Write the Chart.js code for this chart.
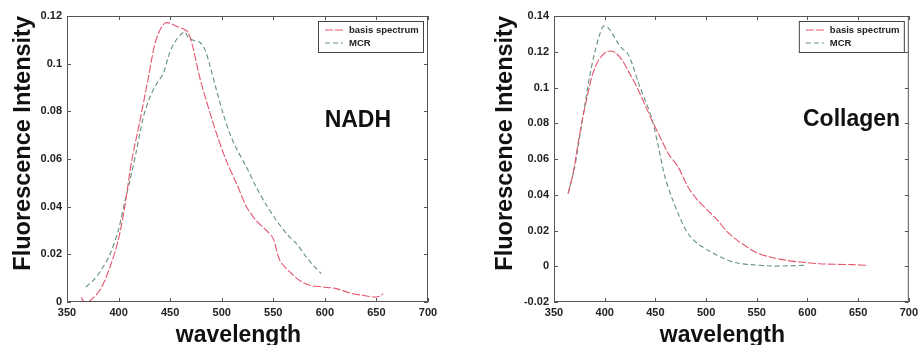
<!DOCTYPE html>
<html>
<head>
<meta charset="utf-8">
<script src="https://cdn.jsdelivr.net/npm/chart.js@4.4.1/dist/chart.umd.min.js"></script>
<style>
  html, body { margin: 0; padding: 0; background: #fff; }
  #wrap { position: relative; width: 922px; height: 345px; overflow: hidden; }
  .panel { position: absolute; top: 0; height: 345px; }
</style>
</head>
<body>
<div id="wrap">
  <div class="panel" style="left:0;width:460px"><canvas id="nadh_chart" width="460" height="345"></canvas></div>
  <div class="panel" style="left:460px;width:462px"><canvas id="collagen_chart" width="462" height="345"></canvas></div>
</div>
<script>
const seriesLabels = ["basis spectrum", "MCR"];

// NADH
const nadhBasisX = [363.6, 367, 370.7, 382, 391.7, 399.7, 406, 412.6, 420.7, 428.8, 435, 440, 445, 449.8, 456, 464, 467.5, 472, 478.8, 485, 495, 504.7, 514.4, 524, 533.7, 543.4, 549.9, 556.3, 566, 575.7, 585.4, 598.3, 611, 624, 637, 648.4, 653, 656.4];
const nadhBasisY = [0.002, 0, 0, 0.005, 0.0147, 0.026, 0.04, 0.059, 0.076, 0.094, 0.108, 0.114, 0.117, 0.117, 0.1157, 0.1143, 0.113, 0.107, 0.094, 0.0846, 0.0706, 0.059, 0.0497, 0.04, 0.034, 0.030, 0.0266, 0.0175, 0.0126, 0.009, 0.007, 0.0063, 0.0056, 0.0038, 0.0028, 0.0021, 0.0024, 0.0035];
const nadhMcrX = [368.4, 377, 385, 391.7, 399.7, 406, 411, 417.4, 424, 430.4, 436.9, 443.3, 448.2, 453, 459.5, 464.3, 467.5, 472.4, 478.8, 483.7, 488.5, 495, 501.4, 507.9, 514.4, 524, 533.7, 543.4, 553, 562.7, 572.4, 582, 590.2, 596.6];
const nadhMcrY = [0.0063, 0.0098, 0.0147, 0.020, 0.030, 0.042, 0.051, 0.0636, 0.0776, 0.086, 0.0916, 0.0958, 0.1028, 0.108, 0.1119, 0.1133, 0.111, 0.1098, 0.109, 0.106, 0.0993, 0.0888, 0.079, 0.0706, 0.0643, 0.0566, 0.048, 0.0406, 0.0343, 0.0287, 0.0245, 0.0189, 0.0147, 0.0119];

// Collagen
const collBasisX = [363.9, 368.8, 373.7, 378.5, 383.4, 388.2, 394.7, 401.2, 406, 411, 417.4, 423.9, 432, 440, 446.6, 453, 462.8, 472.5, 482.2, 491.9, 501.6, 511.4, 521, 530.8, 540.5, 550.3, 563, 579.3, 595.6, 611.8, 628, 644.2, 659.5];
const collBasisY = [0.0406, 0.0518, 0.0686, 0.0835, 0.0966, 0.1077, 0.116, 0.1198, 0.1204, 0.1193, 0.1152, 0.1086, 0.100, 0.090, 0.0816, 0.0742, 0.063, 0.0555, 0.0443, 0.0368, 0.0313, 0.0257, 0.0192, 0.0145, 0.0108, 0.0074, 0.0052, 0.0033, 0.0022, 0.0014, 0.0011, 0.0009, 0.0005];
const collMcrX = [363.9, 370.4, 375.3, 380.1, 385, 389.9, 394.7, 398.6, 402.8, 407.7, 412.5, 417.4, 422.3, 427.1, 433.6, 440, 446.6, 453, 459.4, 466, 474, 482.2, 491.9, 504.9, 517.9, 530.8, 543.8, 566.5, 582.7, 597.3];
const collMcrY = [0.0406, 0.0555, 0.0723, 0.089, 0.1058, 0.119, 0.129, 0.1343, 0.1338, 0.130, 0.1254, 0.1217, 0.1193, 0.1133, 0.102, 0.0928, 0.0825, 0.0667, 0.050, 0.0387, 0.0275, 0.0182, 0.0126, 0.008, 0.0042, 0.0018, 0.0009, 0.0001, 0.0003, 0.0005];

const xTicks = [350, 400, 450, 500, 550, 600, 650, 700];

const toPoints = (xs, ys) => xs.map((x, i) => ({ x: x, y: ys[i] }));

const basisStyle = { borderColor: "#e4566e", borderWidth: 1.1, borderDash: [8, 2] };
const mcrStyle = { borderColor: "#62917c", borderWidth: 1.1, borderDash: [5, 3] };

// box, inward ticks, legend and text labels
const framePlugin = {
  id: "frame",
  afterDraw(chart, args, opts) {
    const { ctx, chartArea: a, scales } = chart;
    const xs = scales.x, ys = scales.y;
    ctx.save();
    ctx.strokeStyle = "#555";
    ctx.lineWidth = 1;
    ctx.strokeRect(a.left + 0.5, a.top + 0.5, a.right - a.left - 1, a.bottom - a.top - 1);
    ctx.beginPath();
    xs.ticks.forEach(t => {
      const px = Math.round(xs.getPixelForValue(t.value)) + 0.5;
      ctx.moveTo(px, a.bottom); ctx.lineTo(px, a.bottom - 4);
      ctx.moveTo(px, a.top); ctx.lineTo(px, a.top + 4);
    });
    ys.ticks.forEach(t => {
      const py = Math.round(ys.getPixelForValue(t.value)) + 0.5;
      ctx.moveTo(a.left, py); ctx.lineTo(a.left + 4, py);
      ctx.moveTo(a.right, py); ctx.lineTo(a.right - 4, py);
    });
    ctx.stroke();

    // legend
    const bw = 105, bh = 31;
    const bx = a.right - 5 - bw, by = a.top + 5;
    ctx.fillStyle = "#fff";
    ctx.fillRect(bx, by, bw, bh);
    ctx.strokeStyle = "#444";
    ctx.strokeRect(bx + 0.5, by + 0.5, bw, bh);
    chart.data.datasets.forEach((ds, i) => {
      const ly = by + 9 + i * 13;
      ctx.strokeStyle = ds.borderColor;
      ctx.lineWidth = 1.1;
      ctx.setLineDash(ds.borderDash);
      ctx.beginPath();
      ctx.moveTo(bx + 7, ly); ctx.lineTo(bx + 25, ly);
      ctx.stroke();
      ctx.setLineDash([]);
      ctx.fillStyle = "#222";
      ctx.font = "bold 9.5px 'Liberation Sans', Arial, sans-serif";
      ctx.textBaseline = "middle";
      ctx.textAlign = "left";
      ctx.fillText(ds.label, bx + 31, ly);
    });

    // compound name
    ctx.fillStyle = "#111";
    ctx.font = "bold 23px 'Liberation Sans', Arial, sans-serif";
    ctx.textAlign = "center";
    ctx.textBaseline = "alphabetic";
    ctx.fillText(opts.name, xs.getPixelForValue(opts.nameX), ys.getPixelForValue(opts.nameY));

    // x axis title
    ctx.fillText("wavelength", (a.left + a.right) / 2 - 9, 342);
    ctx.restore();
  }
};

function makeConfig(basis, mcr, yMin, yMax, yWidth, titlePad, padRight, name, nameX, nameY) {
  return {
    type: "line",
    data: {
      datasets: [
        Object.assign({ label: seriesLabels[0], data: basis }, basisStyle),
        Object.assign({ label: seriesLabels[1], data: mcr }, mcrStyle),
      ],
    },
    options: {
      responsive: false,
      animation: false,
      layout: { padding: { top: 16, right: padRight, left: 0, bottom: 0 } },
      elements: { point: { radius: 0 }, line: { tension: 0.3, fill: false } },
      plugins: {
        legend: { display: false },
        tooltip: { enabled: false },
        frame: { name: name, nameX: nameX, nameY: nameY },
      },
      scales: {
        x: {
          type: "linear",
          min: 350,
          max: 700,
          afterBuildTicks: s => { s.ticks = xTicks.map(v => ({ value: v })); },
          afterFit: s => { s.height = 43; },
          grid: { display: false, drawTicks: false },
          border: { display: false },
          ticks: {
            padding: 4,
            color: "#222",
            font: { family: "'Liberation Sans', Arial, sans-serif", size: 11, weight: "bold" },
            maxRotation: 0,
          },
        },
        y: {
          min: yMin,
          max: yMax,
          afterFit: s => { s.width = yWidth; },
          grid: { display: false, drawTicks: false },
          border: { display: false },
          ticks: {
            stepSize: 0.02,
            padding: 5,
            color: "#222",
            font: { family: "'Liberation Sans', Arial, sans-serif", size: 11, weight: "bold" },
            callback: v => String(+v.toFixed(2)),
          },
          title: {
            display: true,
            text: "Fluorescence Intensity",
            align: "end",
            color: "#111",
            padding: { top: titlePad, bottom: 0 },
            font: { family: "'Liberation Sans', Arial, sans-serif", size: 23.5, weight: "bold" },
          },
        },
      },
    },
    plugins: [framePlugin],
  };
}

const nadh_chart = new Chart(
  document.getElementById("nadh_chart"),
  makeConfig(toPoints(nadhBasisX, nadhBasisY), toPoints(nadhMcrX, nadhMcrY), 0, 0.12, 67, 9, 32, "NADH", 632, 0.0734)
);

const collagen_chart = new Chart(
  document.getElementById("collagen_chart"),
  makeConfig(toPoints(collBasisX, collBasisY), toPoints(collMcrX, collMcrY), -0.02, 0.14, 94, 31, 8, "Collagen", 643.5, 0.0782)
);
</script>
</body>
</html>
